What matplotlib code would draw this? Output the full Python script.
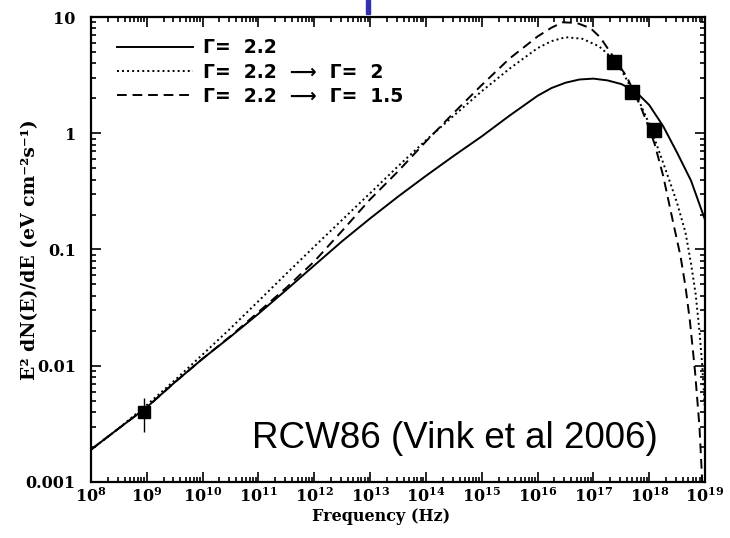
"""
RCW86 broad-band spectrum: synchrotron models with a spectral break
"""
import numpy as np
import matplotlib.pyplot as plt
from matplotlib.patches import Rectangle
from matplotlib.ticker import LogLocator, FuncFormatter, NullFormatter

# model curves (log10 frequency in Hz, E^2 dN/dE)
logf_22 = [8.0, 8.5, 9.0, 9.5, 10.0, 10.5, 11.0, 11.5, 12.0, 12.5, 13.0, 13.5,
           14.0, 14.5, 15.0, 15.5, 16.0, 16.25, 16.5, 16.75, 17.0, 17.25, 17.5,
           17.75, 18.0, 18.25, 18.5, 18.75, 19.0]
sed_22 = [0.0019, 0.0029, 0.0044, 0.0072, 0.0115, 0.0178, 0.028, 0.045, 0.073,
          0.118, 0.185, 0.285, 0.43, 0.64, 0.94, 1.42, 2.1, 2.45, 2.72, 2.9,
          2.95, 2.85, 2.65, 2.3, 1.75, 1.15, 0.68, 0.39, 0.18]

logf_22_20 = [8.0, 8.5, 9.0, 9.5, 10.0, 10.5, 11.0, 11.5, 12.0, 12.5, 13.0, 13.5,
              14.0, 14.5, 15.0, 15.5, 16.0, 16.25, 16.5, 16.8, 17.1, 17.3, 17.5,
              17.7, 17.85, 18.0, 18.2, 18.38, 18.5, 18.65, 18.75, 18.83, 18.9,
              18.95, 19.0]
sed_22_20 = [0.0019, 0.0029, 0.0046, 0.0075, 0.0125, 0.021, 0.036, 0.062, 0.106,
             0.18, 0.305, 0.52, 0.87, 1.42, 2.3, 3.6, 5.4, 6.2, 6.7, 6.5, 5.6,
             4.6, 3.5, 2.35, 1.75, 1.2, 0.65, 0.37, 0.25, 0.14, 0.075, 0.042,
             0.02, 0.01, 0.004]

logf_22_15 = [8.0, 8.5, 9.0, 9.5, 10.0, 10.5, 11.0, 11.5, 12.0, 12.5, 13.0, 13.5,
              14.0, 14.5, 15.0, 15.5, 16.0, 16.25, 16.45, 16.7, 16.95, 17.12,
              17.3, 17.6, 17.85, 18.0, 18.1, 18.25, 18.43, 18.56, 18.65, 18.73,
              18.82, 18.9, 18.95]
sed_22_15 = [0.0019, 0.0029, 0.0044, 0.0072, 0.0115, 0.018, 0.029, 0.047, 0.079,
             0.145, 0.27, 0.47, 0.85, 1.5, 2.6, 4.4, 6.8, 8.1, 9.0, 8.9, 8.0, 6.7,
             5.0, 3.05, 1.68, 1.1, 0.8, 0.43, 0.17, 0.088, 0.048, 0.024, 0.009,
             0.003, 0.001]

# measurements
radio_freq = [8.9e8]
radio_flux = [0.0040]
radio_lo = [0.0013]
radio_hi = [0.0013]
xray_freq = [2.3e17, 5.0e17, 1.2e18]
xray_flux = [4.1, 2.26, 1.07]

ytick_vals = [0.001, 0.01, 0.1, 1, 10]

tick_font = {'family': 'DejaVu Serif', 'weight': 'bold', 'size': 11.5}
plt.rcParams['mathtext.fontset'] = 'dejavuserif'

fig = plt.figure(figsize=(7.3, 5.38), dpi=100)
ax = fig.add_axes([0.1247, 0.1041, 0.8411, 0.8643])

ax.plot(10 ** np.array(logf_22), sed_22, color='black', lw=1.4,
        label='Γ=  2.2')
ax.plot(10 ** np.array(logf_22_20), sed_22_20, color='black', lw=1.4,
        linestyle=(0, (1, 1.6)), label='Γ=  2.2  ⟶  Γ=  2')
ax.plot(10 ** np.array(logf_22_15), sed_22_15, color='black', lw=1.4,
        linestyle=(0, (5, 3)), label='Γ=  2.2  ⟶  Γ=  1.5')

ax.errorbar(radio_freq, radio_flux, yerr=[radio_lo, radio_hi], fmt='s',
            color='black', ms=9, elinewidth=1.0, capsize=0)
ax.plot(xray_freq, xray_flux, 's', color='black', ms=9.5, linestyle='none')

ax.set_xscale('log')
ax.set_yscale('log')
ax.set_xlim(1e8, 1e19)
ax.set_ylim(0.001, 10)

ax.xaxis.set_major_locator(LogLocator(base=10, numticks=20))
ax.xaxis.set_minor_locator(LogLocator(base=10, subs=np.arange(2, 10), numticks=20))
ax.xaxis.set_major_formatter(FuncFormatter(
    lambda v, p: r'$\mathbf{10^{%d}}$' % round(np.log10(v))))
ax.xaxis.set_minor_formatter(NullFormatter())
ax.set_yticks(ytick_vals)
ax.yaxis.set_minor_locator(LogLocator(base=10, subs=np.arange(2, 10), numticks=20))
ax.yaxis.set_major_formatter(FuncFormatter(lambda v, p: '%g' % v))
ax.yaxis.set_minor_formatter(NullFormatter())

ax.tick_params(which='both', direction='in', top=True, right=True, width=1.2)
ax.tick_params(which='major', length=7)
ax.tick_params(which='minor', length=3.5)
ax.tick_params(axis='x', which='major', pad=4)
ax.tick_params(axis='y', which='major', pad=11)
for lab in ax.get_xticklabels() + ax.get_yticklabels():
    lab.set_fontproperties(tick_font)
for sp in ax.spines.values():
    sp.set_linewidth(1.6)

ax.set_xlabel('Frequency (Hz)', family='DejaVu Serif', weight='bold',
              fontsize=11.5)
ax.xaxis.set_label_coords(0.472, -0.057)
ax.set_ylabel('E² dN(E)/dE (eV cm⁻²s⁻¹)', family='DejaVu Serif',
              weight='bold', fontsize=13.5)
ax.yaxis.set_label_coords(-0.085, 0.5)

ax.legend(loc='upper left', bbox_to_anchor=(0.03, 0.97), frameon=False,
          prop={'family': 'DejaVu Sans', 'weight': 'bold', 'size': 13.5},
          handlelength=4.05, handletextpad=0.55, labelspacing=0.28,
          borderaxespad=0)

ax.text(0.262, 0.073, 'RCW86 (Vink et al 2006)', transform=ax.transAxes,
        family='Liberation Sans', fontsize=26.5, va='baseline', ha='left')

# cut-off fragment of the slide title above the plot
fig.patches.append(Rectangle((366 / 730, 1 - 14 / 538), 4 / 730, 14 / 538,
                             transform=fig.transFigure, color='#3030b0',
                             zorder=5))

fig.savefig('out.png', dpi=100)
